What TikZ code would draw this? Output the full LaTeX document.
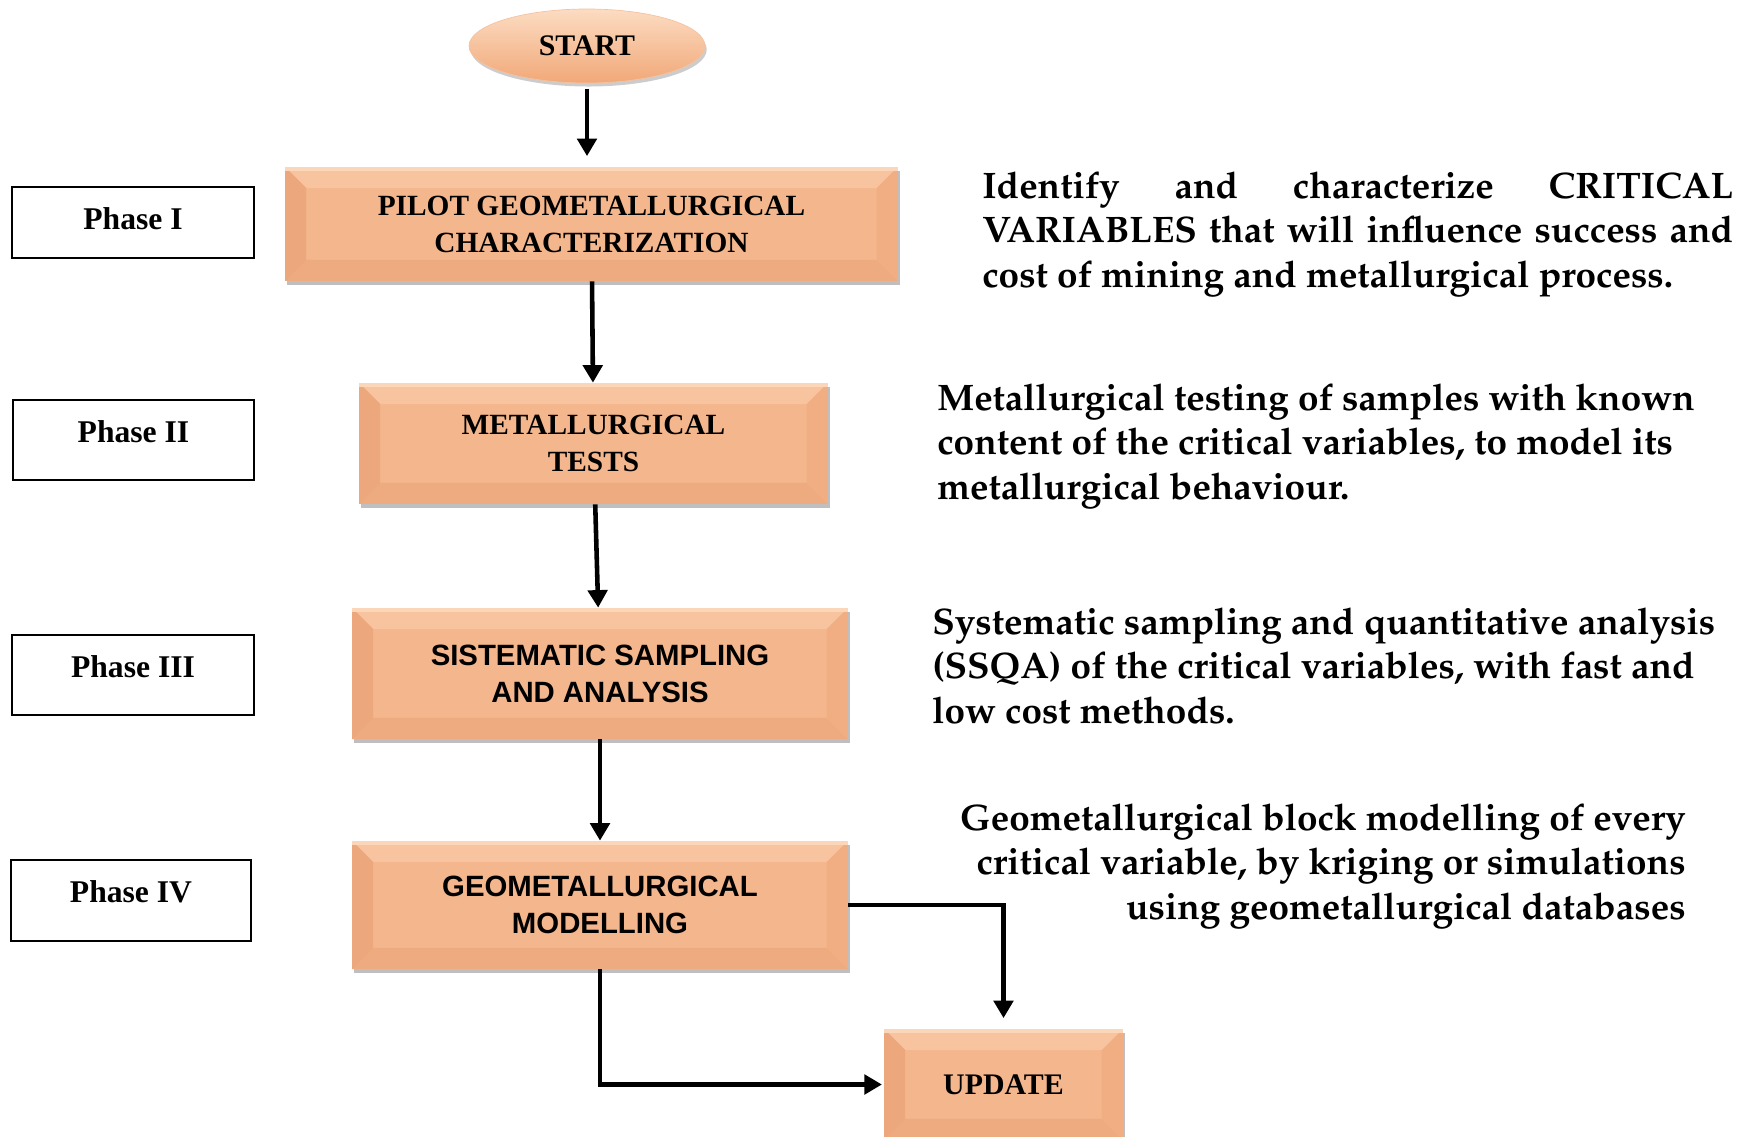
\documentclass[tikz,border=0pt]{standalone}
\usepackage[T1]{fontenc}
\usepackage{fontspec}
\setmainfont{Liberation Serif}
\newfontfamily\arialfont{Liberation Sans}
\newcommand\palbf{\fontencoding{T1}\fontfamily{ppl}\fontseries{b}\fontshape{n}\fontsize{21}{25.4}\selectfont}
\usetikzlibrary{arrows.meta, positioning, shapes.geometric, shadows}

\definecolor{bevmid}{RGB}{244,182,140}
\definecolor{bevtop}{RGB}{248,196,160}
\definecolor{bevleft}{RGB}{236,167,124}
\definecolor{bevright}{RGB}{241,174,131}
\definecolor{bevbot}{RGB}{239,171,128}
\definecolor{bevedge}{RGB}{251,214,184}
\definecolor{starttop}{RGB}{252,220,194}
\definecolor{startbot}{RGB}{241,168,120}

\begin{document}
\begin{tikzpicture}[x=0.02cm, y=-0.02cm,
    bevel/.style={rectangle, fill=bevmid, inner sep=0pt, align=center,
        font=\bfseries\fontsize{16.7}{21}\selectfont,
        drop shadow={shadow xshift=1.2pt, shadow yshift=-2.5pt, fill=black, opacity=0.25},
        path picture={
            \fill[bevtop] (path picture bounding box.north west) -- (path picture bounding box.north east)
                -- ([shift={(-12pt,-12pt)}]path picture bounding box.north east) -- ([shift={(12pt,-12pt)}]path picture bounding box.north west) -- cycle;
            \fill[bevbot] (path picture bounding box.south west) -- (path picture bounding box.south east)
                -- ([shift={(-12pt,12pt)}]path picture bounding box.south east) -- ([shift={(12pt,12pt)}]path picture bounding box.south west) -- cycle;
            \fill[bevleft] (path picture bounding box.north west) -- ([shift={(12pt,-12pt)}]path picture bounding box.north west)
                -- ([shift={(12pt,12pt)}]path picture bounding box.south west) -- (path picture bounding box.south west) -- cycle;
            \fill[bevright] (path picture bounding box.north east) -- ([shift={(-12pt,-12pt)}]path picture bounding box.north east)
                -- ([shift={(-12pt,12pt)}]path picture bounding box.south east) -- (path picture bounding box.south east) -- cycle;
            \fill[bevedge] (path picture bounding box.north west) rectangle ([yshift=-2.5pt]path picture bounding box.north east);
        }},
    sansbevel/.style={bevel, font=\arialfont\bfseries\fontsize{16.7}{21}\selectfont},
    startnode/.style={ellipse, top color=starttop, bottom color=startbot, draw=startbot!70!white,
        inner sep=0pt, font=\bfseries\fontsize{17}{20}\selectfont,
        drop shadow={shadow xshift=1pt, shadow yshift=-2pt, fill=black, opacity=0.2}},
    phase/.style={rectangle, draw, line width=1.3pt, inner sep=0pt, text height=12pt, text depth=9.5pt,
        font=\bfseries\fontsize{18}{22}\selectfont},
    note/.style={inner sep=0pt, font=\palbf},
    arrow/.style={->, >={Triangle[length=10pt, width=11pt]}, line width=2.6pt}
]
\useasboundingbox (0,0) rectangle (1750,1136);

% flow boxes (middle)
\node[startnode, minimum width=4.72cm, minimum height=1.48cm] (start) at (587,46) {START};
\node[bevel, minimum width=12.26cm, minimum height=2.28cm] (pilot) at (591.5,224) {PILOT GEOMETALLURGICAL\\CHARACTERIZATION};
\node[bevel, minimum width=9.38cm, minimum height=2.42cm] (tests) at (593.5,443.5) {METALLURGICAL\\TESTS};
\node[sansbevel, minimum width=9.92cm, minimum height=2.62cm] (sampling) at (600,673.5) {SISTEMATIC SAMPLING\\AND ANALYSIS};
\node[sansbevel, minimum width=9.92cm, minimum height=2.56cm] (modelling) at (600,905) {GEOMETALLURGICAL\\MODELLING};
\node[bevel, minimum width=4.78cm, minimum height=2.22cm, font=\bfseries\fontsize{17}{21}\selectfont] (update) at (1003.5,1084.5) {UPDATE};

% phase labels (left)
\node[phase, minimum width=4.84cm, minimum height=1.42cm, text depth=3.5pt] (ph1) at (133,222.5) {Phase I};
\node[phase, minimum width=4.82cm, minimum height=1.6cm] (ph2) at (133.5,440) {Phase II};
\node[phase, minimum width=4.84cm, minimum height=1.6cm] (ph3) at (133,675) {Phase III};
\node[phase, minimum width=4.8cm, minimum height=1.62cm] (ph4) at (131,900.5) {Phase IV};

% descriptions (right)
\node[note, anchor=north west, text width=15.02cm, align=justify] (txt1) at (982,171)
    {Identify and characterize CRITICAL\linebreak VARIABLES that will influence success and\linebreak cost of mining and metallurgical process.};
\node[note, anchor=north west, align=left] (txt2) at (937,383)
    {Metallurgical testing of samples with known\\content of the critical variables, to model its\\metallurgical behaviour.};
\node[note, anchor=north west, align=left] (txt3) at (932,607)
    {Systematic sampling and quantitative analysis\\(SSQA) of the critical variables, with fast and\\low cost methods.};
\node[note, anchor=north east, align=right] (txt4) at (1686,803)
    {Geometallurgical block modelling of every\\critical variable, by kriging or simulations\\using geometallurgical databases};

% connectors
\draw[arrow, shorten <=3pt, shorten >=6pt] (start.south) -- (start.south |- pilot.north);
\draw[arrow] (pilot) -- (tests);
\draw[arrow] (tests) -- (sampling);
\draw[arrow] (sampling) -- (modelling);
\draw[arrow, shorten >=6pt] (modelling.east) -| (update.north);
\draw[arrow, shorten >=1pt] (modelling.south) |- (update.west);
\end{tikzpicture}
\end{document}
